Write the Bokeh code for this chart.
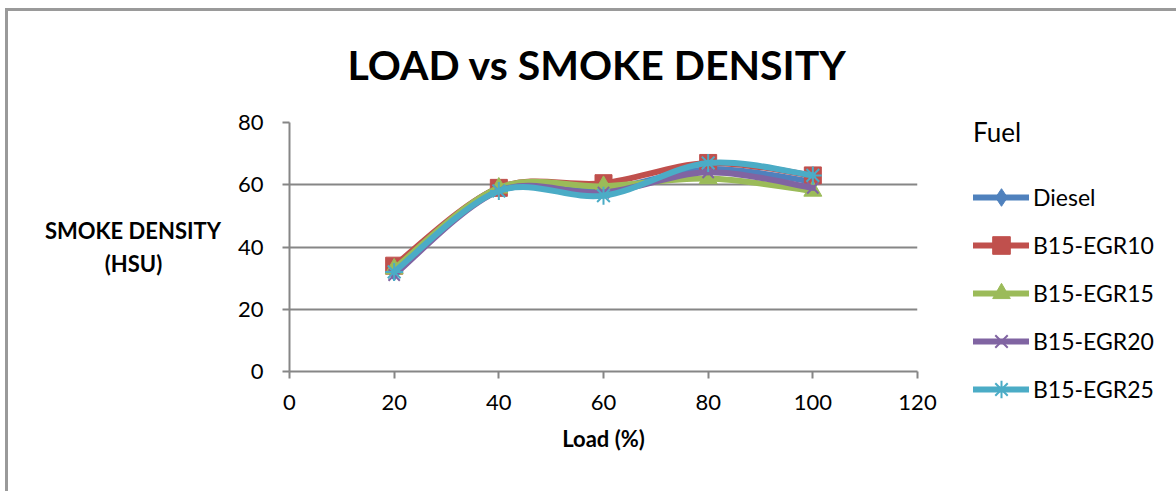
import numpy as np
from bokeh.plotting import figure
from bokeh.models import Range1d, Legend, LegendItem, FixedTicker
from bokeh.embed import file_html
from bokeh.resources import INLINE

# ---- data ----
load = [20, 40, 60, 80, 100]
diesel = [32, 59, 58.5, 65, 61]
b15_egr10 = [34, 59, 60.5, 67, 63]
b15_egr15 = [33, 59, 59.5, 62, 58]
b15_egr20 = [31, 58, 57.5, 64, 59]
b15_egr25 = [32, 58, 56.5, 67, 63]

series_names = ["Diesel", "B15-EGR10", "B15-EGR15", "B15-EGR20", "B15-EGR25"]
series_values = [diesel, b15_egr10, b15_egr15, b15_egr20, b15_egr25]
colors = ["#4F81BD", "#C0504D", "#9BBB59", "#8064A2", "#4BACC6"]
markers = ["diamond", "square", "triangle", "x", "asterisk"]
marker_sizes = [18, 17, 18, 16, 18]

x_ticks = [0, 20, 40, 60, 80, 100, 120]
y_ticks = [0, 20, 40, 60, 80]

FONT = "Lato"
W, H = 1176, 491
FL, FR, FT, FB = 289, 917, 122, 371

p = figure(width=W, height=H, output_backend="svg", toolbar_location=None,
           x_range=Range1d(0, 120), y_range=Range1d(0, 80),
           frame_width=FR - FL, frame_height=FB - FT,
           min_border_left=FL, min_border_right=W - FR,
           min_border_top=FT, min_border_bottom=H - FB,
           title="LOAD vs SMOKE DENSITY")
p.outline_line_color = None
p.background_fill_color = "white"
p.border_fill_color = None
p.styles = {
    "background": "linear-gradient(#9a9a9a,#9a9a9a) 5px 8px / 100% 3px no-repeat, "
                  "linear-gradient(#9a9a9a,#9a9a9a) 5px 8px / 3px 100% no-repeat, white",
}

p.title.align = "left"
p.title.offset = 347 - FL
p.title.text_font = FONT
p.title.text_font_size = "41px"
p.title.text_font_style = "bold"
p.title.text_color = "black"
p.title.standoff = 67

for ax, ticks in ((p.xaxis, x_ticks), (p.yaxis, y_ticks)):
    ax.ticker = FixedTicker(ticks=ticks)
    ax.axis_line_color = "#868686"
    ax.axis_line_width = 2
    ax.major_tick_line_color = "#868686"
    ax.major_tick_line_width = 2
    ax.major_tick_in = 0
    ax.major_tick_out = 7
    ax.minor_tick_line_color = None
    ax.major_label_text_font = FONT
    ax.major_label_text_font_size = "22px"
    ax.major_label_text_color = "black"
    ax.axis_label_text_font = FONT
    ax.axis_label_text_font_size = "22px"
    ax.axis_label_text_font_style = "bold"
    ax.axis_label_text_color = "black"
p.yaxis.major_label_standoff = 19
p.xaxis.major_label_standoff = 16

p.xaxis.axis_label = "Load (%)"
p.xaxis.axis_label_standoff = 12
NBSP = "\u00a0"
p.yaxis.axis_label = "SMOKE DENSITY\n(HSU)" + NBSP * 11
p.yaxis.axis_label_orientation = "horizontal"
p.yaxis.axis_label_standoff = 14

p.xgrid.grid_line_color = None
p.ygrid.grid_line_color = "#868686"
p.ygrid.grid_line_width = 2


def smooth_controls(xs, ys):
    xs = np.asarray(xs, float)
    ys = np.asarray(ys, float)
    n = len(xs)
    out = {k: [] for k in ("x0", "y0", "x1", "y1", "cx0", "cy0", "cx1", "cy1")}
    for i in range(n - 1):
        im = max(i - 1, 0)
        ip = min(i + 2, n - 1)
        out["x0"].append(xs[i]); out["y0"].append(ys[i])
        out["x1"].append(xs[i + 1]); out["y1"].append(ys[i + 1])
        out["cx0"].append(xs[i] + (xs[i + 1] - xs[im]) / 6)
        out["cy0"].append(ys[i] + (ys[i + 1] - ys[im]) / 6)
        out["cx1"].append(xs[i + 1] - (xs[ip] - xs[i]) / 6)
        out["cy1"].append(ys[i + 1] - (ys[ip] - ys[i]) / 6)
    return out


items = []
for name, vals, col, mk, ms in zip(series_names, series_values, colors, markers, marker_sizes):
    c = smooth_controls(load, vals)
    rb = p.bezier(x0=c["x0"], y0=c["y0"], x1=c["x1"], y1=c["y1"],
                  cx0=c["cx0"], cy0=c["cy0"], cx1=c["cx1"], cy1=c["cy1"],
                  line_color=col, line_width=6, line_cap="round")
    if mk in ("x", "asterisk"):
        rs = p.scatter(load, vals, marker=mk, size=ms, line_color=col, line_width=2)
    else:
        rs = p.scatter(load, vals, marker=mk, size=ms, fill_color=col, line_color=col)
    items.append(LegendItem(label=name, renderers=[rb, rs]))

legend = Legend(items=items, title="Fuel", location=(56, -40),
                orientation="vertical")
legend.title_text_font = FONT
legend.title_text_font_size = "26px"
legend.title_text_font_style = "normal"
legend.title_text_color = "black"
legend.title_standoff = 27
legend.label_text_font = FONT
legend.label_text_font_size = "23px"
legend.label_text_color = "black"
legend.glyph_width = 56
legend.glyph_height = 44
legend.label_height = 44
legend.spacing = 4
legend.label_standoff = 4
legend.padding = 0
legend.margin = 0
legend.border_line_color = None
legend.background_fill_alpha = 0
p.add_layout(legend, "right")

open("out.html", "w").write(file_html(p, INLINE))
